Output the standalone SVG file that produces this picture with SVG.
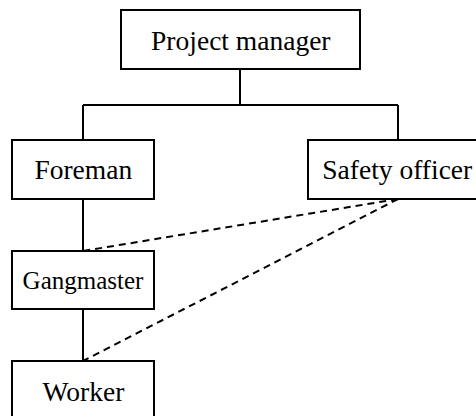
<svg xmlns="http://www.w3.org/2000/svg" width="476" height="416" viewBox="0 0 476 416">
<style>
.box{fill:#fff;stroke:#000;stroke-width:2}
.t{font-family:'Liberation Serif','Times New Roman',serif;font-size:27.5px;fill:#000;text-anchor:middle}
.c{fill:none;stroke:#000;stroke-width:2}
.d{fill:none;stroke:#000;stroke-width:2;stroke-dasharray:7,5}
</style>
<rect width="476" height="416" fill="#fff"/>
<g id="connectors">
<path class="c" d="M240 69V105M83 105H398M83 105V140M398 105V140"/>
<path class="c" d="M83 199V251M83 309V361"/>
<path class="d" d="M398 199L83 251"/>
<path class="d" d="M398 199L83 361"/>
</g>
<g id="project-manager"><rect class="box" x="121" y="10" width="239" height="59"/><text class="t" x="240.8" y="50">Project manager</text></g>
<g id="foreman"><rect class="box" x="12" y="140" width="142" height="59"/><text class="t" x="83.3" y="179">Foreman</text></g>
<g id="safety-officer"><rect class="box" x="308" y="140" width="180" height="59"/><text class="t" x="397.3" y="179">Safety officer</text></g>
<g id="gangmaster"><rect class="box" x="12" y="251" width="142" height="58"/><text class="t" x="83" y="288.5" style="font-size:25px">Gangmaster</text></g>
<g id="worker"><rect class="box" x="12" y="361" width="142" height="70"/><text class="t" x="83.5" y="401">Worker</text></g>
</svg>
